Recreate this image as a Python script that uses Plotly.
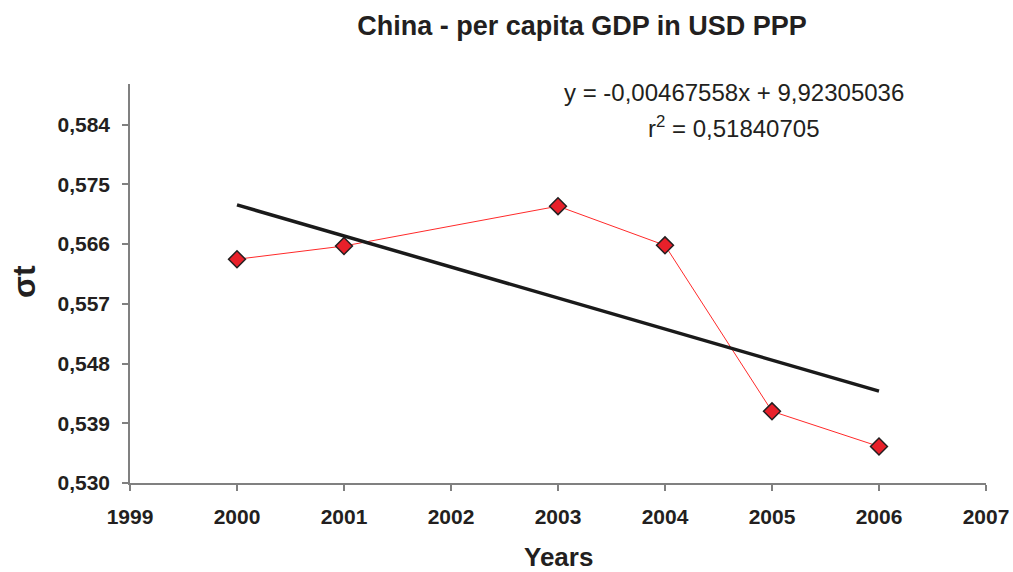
import plotly.graph_objects as go

years = [2000, 2001, 2003, 2004, 2005, 2006]
sigma_t = [0.5637, 0.5657, 0.5717, 0.5658, 0.5408, 0.5355]
trend_slope = -0.00467558
trend_intercept = 9.92305036
trend_x = [2000, 2006]
trend_y = [trend_slope * x + trend_intercept for x in trend_x]
y_ticks = [0.530, 0.539, 0.548, 0.557, 0.566, 0.575, 0.584]
y_tick_labels = ["0,530", "0,539", "0,548", "0,557", "0,566", "0,575", "0,584"]
x_ticks = list(range(1999, 2008))

FONT = "Liberation Sans, Arial, sans-serif"
TXT = "#231f20"
AX = "#808080"

fig = go.Figure()
fig.add_trace(go.Scatter(
    x=years, y=sigma_t, mode="lines+markers",
    line=dict(color="#ff2a2a", width=1),
    marker=dict(symbol="diamond", size=13, color="#e8202a",
                line=dict(color="#231f20", width=1.5)),
    showlegend=False,
))
fig.add_trace(go.Scatter(
    x=trend_x, y=trend_y, mode="lines",
    line=dict(color="#1a1a1a", width=3.5),
    showlegend=False,
))

fig.update_layout(
    width=1013, height=572,
    margin=dict(l=130, r=27, t=84, b=89),
    paper_bgcolor="white", plot_bgcolor="white",
    font=dict(family=FONT, color=TXT),
    title=dict(text="<b>China - per capita GDP in USD PPP</b>",
               x=582 / 1013, xanchor="center", y=1 - 26 / 572, yanchor="middle",
               font=dict(size=27, color=TXT, family=FONT)),
)
fig.update_xaxes(
    range=[1999, 2007], tickvals=x_ticks, ticktext=[f"<b>{v}</b>" for v in x_ticks],
    showline=True, linecolor=AX, linewidth=1.5, ticks="outside", ticklen=6,
    tickcolor=AX, tickwidth=1.5, showgrid=False, zeroline=False, automargin=False,
    tickfont=dict(size=21, color=TXT, family=FONT), ticklabelstandoff=8,
)
fig.update_yaxes(
    range=[0.530, 0.5901], tickvals=y_ticks, ticktext=[f"<b>{t}</b>" for t in y_tick_labels],
    showline=True, linecolor=AX, linewidth=1.5, ticks="outside", ticklen=6,
    tickcolor=AX, tickwidth=1.5, showgrid=False, zeroline=False, automargin=False,
    tickfont=dict(size=21, color=TXT, family=FONT), ticklabelstandoff=8,
)

fig.add_annotation(text="<b>Years</b>", xref="paper", yref="paper",
                   x=(558 - 130) / (986 - 130), y=-(557 - 483) / (483 - 84),
                   xanchor="center", yanchor="middle", showarrow=False,
                   font=dict(size=26, color=TXT, family=FONT))
fig.add_annotation(text="<b>σt</b>", xref="paper", yref="paper",
                   x=-(130 - 24) / (986 - 130), y=(483 - 282) / (483 - 84),
                   xanchor="center", yanchor="middle", showarrow=False, textangle=-90,
                   font=dict(size=32, color=TXT, family=FONT))
fig.add_annotation(text="y = -0,00467558x + 9,92305036", xref="paper", yref="paper",
                   x=(734 - 130) / (986 - 130), y=(483 - 92) / (483 - 84),
                   xanchor="center", yanchor="middle", showarrow=False,
                   font=dict(size=24, color=TXT, family=FONT))
fig.add_annotation(text="r<sup>2</sup> = 0,51840705", xref="paper", yref="paper",
                   x=(734 - 130) / (986 - 130), y=(483 - 127) / (483 - 84),
                   xanchor="center", yanchor="middle", showarrow=False,
                   font=dict(size=24, color=TXT, family=FONT))

fig.write_html("out.html")
